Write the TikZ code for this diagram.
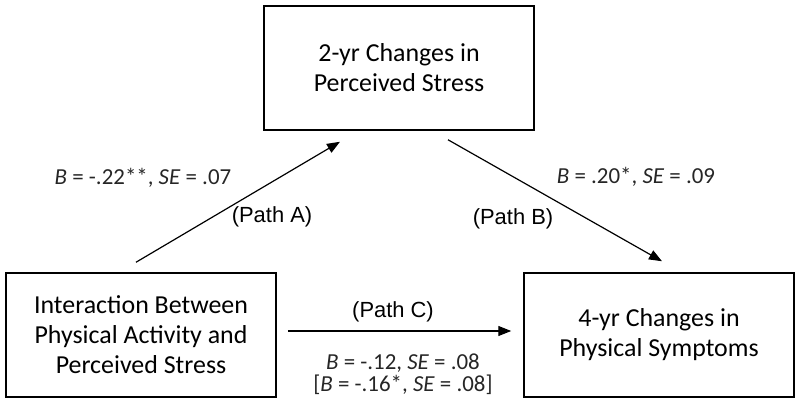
\documentclass[tikz,border=0pt]{standalone}
\usepackage{fontspec}
\setmainfont{Carlito}
\newfontfamily\pathfont{Liberation Sans}
\usetikzlibrary{arrows.meta}

\begin{document}
\begin{tikzpicture}[x=1bp,y=-1bp,
    box/.style={draw,line width=1.5bp,minimum width=270bp,minimum height=124bp,
      align=center,inner sep=0pt,font=\fontsize{26}{30}\selectfont},
    link/.style={line width=1.2bp,-{Triangle[length=13bp,width=10bp]}},
    coef/.style={align=center,inner sep=0pt,text=black!85,
      font=\fontsize{23}{22.5}\selectfont},
    tag/.style={inner sep=0pt,font=\pathfont\fontsize{22}{26}\selectfont}]

    \useasboundingbox (0,0) rectangle (800,405);

    % the three variables
    \node [box] (stress) at (399,68) {2-yr Changes in\\Perceived Stress};
    \node [box] (inter) at (141,335)
    {Interaction Between\\Physical Activity and\\Perceived Stress};
    \node [box] (symp) at (659,335) {4-yr Changes in\\Physical Symptoms};

    \draw [link] ([shift={(-5,-10)}]inter.north) -- ([shift={(-59,11)}]stress.south);
    \draw [link] ([shift={(49,9)}]stress.south) -- ([shift={(3,-11)}]symp.north);
    \draw [link] ([shift={(11,-4)}]inter.east) -- ([shift={(-12,-4)}]symp.west);

    % path labels
    \node [coef] (coefa) at (143,178) {\textit{B} = -.22**, \textit{SE} = .07};
    \node [tag] (taga) at (272,217) {(Path A)};

    \node [tag] (tagb) at (513,219) {(Path B)};
    \node [coef] (coefb) at (636,177) {\textit{B} = .20*, \textit{SE} = .09};

    \node [tag] (tagc) at (393,312) {(Path C)};
    \node [coef] (coefc) at (403,374)
    {\textit{B} = -.12, \textit{SE} = .08\\{}[\textit{B} = -.16*, \textit{SE} = .08]};
  \end{tikzpicture}
\end{document}
